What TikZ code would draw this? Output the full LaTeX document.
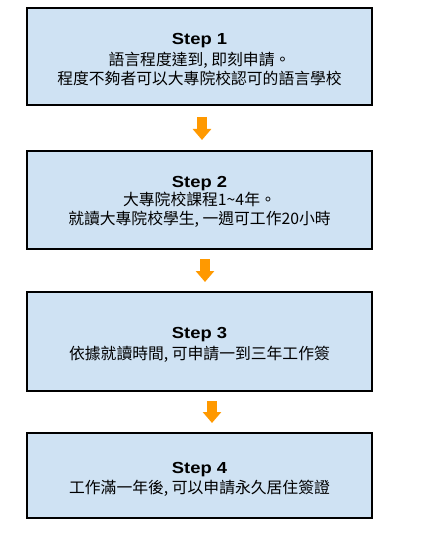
\documentclass[tikz,border=0pt]{standalone}
\usepackage{fontspec}
\newfontfamily\cjk{Noto Sans CJK TC}
\newfontfamily\stepf[FakeStretch=1.15]{Liberation Sans}
\usetikzlibrary{arrows.meta}
\definecolor{boxblue}{HTML}{CFE2F3}
\definecolor{arrorange}{HTML}{FF9900}
\begin{document}
\begin{tikzpicture}[x=1pt,y=-1pt,
  stepbox/.style={draw=black, line width=1.3pt, fill=boxblue, inner sep=0pt, minimum width=345pt},
  title/.style={anchor=base, inner sep=0pt, font=\stepf\bfseries\fontsize{16}{19}\selectfont},
  body/.style={anchor=base, inner sep=0pt, font=\cjk\fontsize{15.8}{19}\selectfont},
  flow/.style={draw=arrorange, line width=10pt, -{Triangle[width=18pt,length=11pt]}}]
\useasboundingbox (0,0) rectangle (423,545);
% boxes
\node[stepbox, minimum height=97pt] (b1) at (199.5,56.5) {};
\node[stepbox, minimum height=98pt] (b2) at (199.5,200) {};
\node[stepbox, minimum height=99pt] (b3) at (199.5,341.5) {};
\node[stepbox, minimum height=85pt] (b4) at (199.5,475.5) {};
% texts
\node[title] (t1) at (199.5,44.3) {Step 1};
\node[body] (t1a) at (199.5,65.5) {語言程度達到, 即刻申請。};
\node[body] (t1b) at (199.5,84.5) {程度不夠者可以大專院校認可的語言學校};
\node[title] (t2) at (199.5,187.3) {Step 2};
\node[body] (t2a) at (199.5,205.7) {大專院校課程1\textasciitilde 4年。};
\node[body] (t2b) at (199.5,224.3) {就讀大專院校學生, 一週可工作20小時};
\node[title] (t3) at (199.5,338) {Step 3};
\node[body] (t3a) at (199.5,359.5) {依據就讀時間, 可申請一到三年工作簽};
\node[title] (t4) at (199.5,473) {Step 4};
\node[body] (t4a) at (199.5,493.5) {工作滿一年後, 可以申請永久居住簽證};
% arrows
\coordinate (a1s) at (202,117);
\coordinate (a1e) at (202,140);
\coordinate (a2s) at (205,259);
\coordinate (a2e) at (205,282);
\coordinate (a3s) at (212,401);
\coordinate (a3e) at (212,423);
\draw[flow] (a1s) -- (a1e);
\draw[flow] (a2s) -- (a2e);
\draw[flow] (a3s) -- (a3e);
\end{tikzpicture}
\end{document}
